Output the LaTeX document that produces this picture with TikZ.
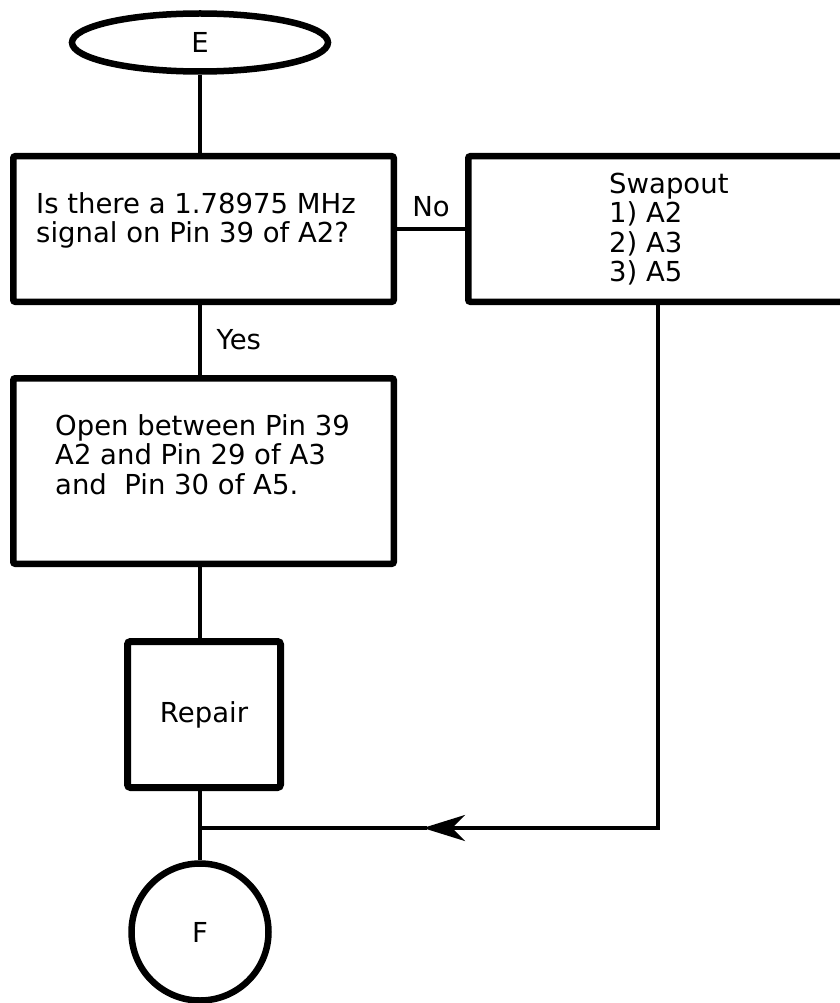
\documentclass[tikz,border=0pt]{standalone}
\usepackage{fontspec}
\setmainfont{DejaVu Sans}
\usetikzlibrary{positioning,shapes.geometric,arrows.meta,calc}

\begin{document}
\begin{tikzpicture}[
    x=1pt, y=-1pt,
    font=\fontsize{27.5}{29.5}\selectfont, text=black,
    >={Stealth[length=42pt,width=26pt,inset=13pt]},
    box/.style={draw, line width=6.5pt, rounded corners=2pt, inner sep=0pt},
    term/.style={draw, line width=6.5pt, inner sep=0pt},
    txt/.style={align=left, inner sep=0pt, anchor=north west},
    lbl/.style={inner sep=0pt},
    arr/.style={line width=3.3pt},
  ]
  \useasboundingbox (0,0) rectangle (839,1003);

  % ---- terminals
  \node[term, ellipse, minimum width=256pt, minimum height=58pt] (start) at (200,42.5) {E};
  \node[term, circle, minimum size=137pt] (done) at (200,932) {F};

  % ---- test and actions
  \node[box, minimum width=380.5pt, minimum height=145.5pt] (ask) at (203.5,229) {};
  \node[txt] (askt) at (36,192) {Is there a 1.78975 MHz\\signal on Pin 39 of A2?};
  \node[box, minimum width=394.5pt, minimum height=145.5pt] (swap) at (665.5,229) {};
  \node[txt] (swapt) at (609,172.5) {Swapout\\1) A2\\2) A3\\3) A5};
  \node[box, minimum width=380.5pt, minimum height=185.5pt] (open) at (203.5,471) {};
  \node[txt] (opent) at (55,414) {Open between Pin 39\\A2 and Pin 29 of A3\\and\ \ Pin 30 of A5.};
  \node[box, line width=7pt, rounded corners=3pt, minimum width=153pt, minimum height=146pt] (fix) at (204,714.5) {Repair};

  % ---- main column
  \draw[arr] (start.south) -- (start.south |- ask.north);
  \draw[arr] (ask.south -| start) -- (start |- open.north)
        node[lbl, midway, right=15pt] (yes) {Yes};
  \draw[arr] (ask.east) -- (ask.east -| swap.west)
        node[lbl, midway, above=10pt] (no) {No};
  \draw[arr] (start |- open.south) -- (start |- fix.north);
  \draw[arr] (start |- fix.south) -- (done.north);

  % ---- return path from the swapout box
  \coordinate (turn) at (658,828);
  \coordinate (tip) at (423,828);
  \draw[arr, line width=4pt, ->] (swap.south -| turn) -- (turn) -- (tip);
  \draw[arr, line width=4pt] ($(tip)+(4,0)$) -- (start |- turn);
\end{tikzpicture}
\end{document}
